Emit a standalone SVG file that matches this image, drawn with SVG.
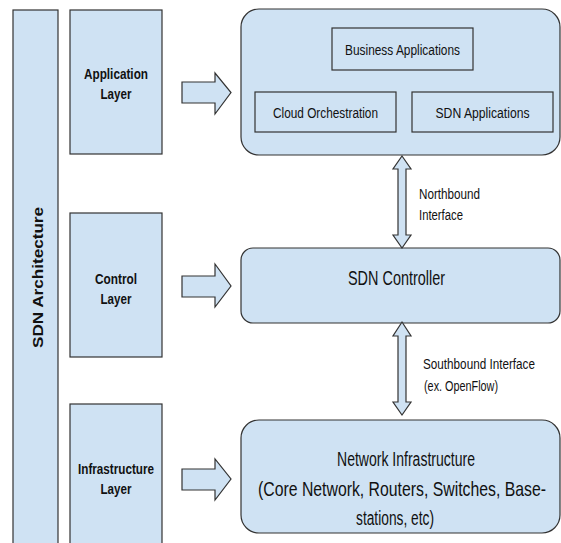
<svg xmlns="http://www.w3.org/2000/svg" width="561" height="543" viewBox="0 0 561 543">
<style>
.b{fill:#cfe2f3;stroke:#333;stroke-width:1.2}
.t{font-family:"Liberation Sans",Arial,sans-serif;fill:#111}
.bold{font-weight:bold}
</style>
<rect width="561" height="543" fill="#fff"/>
<g id="sdn-architecture">
<rect class="b" x="13" y="10" width="45" height="550"/>
<text class="t bold" font-size="15" transform="translate(43,277.5) rotate(-90)" text-anchor="middle" textLength="141" lengthAdjust="spacingAndGlyphs">SDN Architecture</text>
</g>
<g id="application-layer">
<rect class="b" x="70" y="10" width="92" height="144"/>
<text class="t bold" font-size="15" x="116" y="79" text-anchor="middle" textLength="64" lengthAdjust="spacingAndGlyphs">Application</text>
<text class="t bold" font-size="15" x="116" y="99" text-anchor="middle" textLength="31" lengthAdjust="spacingAndGlyphs">Layer</text>
</g>
<g id="control-layer">
<rect class="b" x="70" y="213" width="92" height="144"/>
<text class="t bold" font-size="15" x="116" y="284" text-anchor="middle" textLength="42" lengthAdjust="spacingAndGlyphs">Control</text>
<text class="t bold" font-size="15" x="116" y="304" text-anchor="middle" textLength="31" lengthAdjust="spacingAndGlyphs">Layer</text>
</g>
<g id="infrastructure-layer">
<rect class="b" x="70" y="404" width="92" height="156"/>
<text class="t bold" font-size="15" x="116" y="474" text-anchor="middle" textLength="76" lengthAdjust="spacingAndGlyphs">Infrastructure</text>
<text class="t bold" font-size="15" x="116" y="494" text-anchor="middle" textLength="31" lengthAdjust="spacingAndGlyphs">Layer</text>
</g>
<g id="applications">
<rect class="b" x="241" y="9" width="319" height="146" rx="18" ry="18"/>
</g>
<g id="business-applications">
<rect class="b" x="332" y="28" width="141" height="42"/>
<text class="t" font-size="15.5" x="402.5" y="55" text-anchor="middle" textLength="115" lengthAdjust="spacingAndGlyphs">Business Applications</text>
</g>
<g id="cloud-orchestration">
<rect class="b" x="255" y="92" width="141" height="40"/>
<text class="t" font-size="15.5" x="325.5" y="118" text-anchor="middle" textLength="105" lengthAdjust="spacingAndGlyphs">Cloud Orchestration</text>
</g>
<g id="sdn-applications">
<rect class="b" x="412" y="92" width="141" height="40"/>
<text class="t" font-size="15.5" x="482.5" y="118" text-anchor="middle" textLength="94" lengthAdjust="spacingAndGlyphs">SDN Applications</text>
</g>
<g id="sdn-controller">
<rect class="b" x="241" y="248" width="319" height="75" rx="12" ry="12"/>
<text class="t" font-size="21" x="396.5" y="285" text-anchor="middle" textLength="97" lengthAdjust="spacingAndGlyphs">SDN Controller</text>
</g>
<g id="network-infrastructure">
<rect class="b" x="241" y="420" width="319" height="113" rx="18" ry="18"/>
<text class="t" font-size="20" x="406" y="466" text-anchor="middle" textLength="138" lengthAdjust="spacingAndGlyphs">Network Infrastructure</text>
<text class="t" font-size="20" transform="scale(0.82,1)" x="490.24" y="496" text-anchor="middle" textLength="351.2" lengthAdjust="spacingAndGlyphs">(Core Network, Routers, Switches, Base-</text>
<text class="t" font-size="20" x="395" y="525" text-anchor="middle" textLength="78" lengthAdjust="spacingAndGlyphs">stations, etc)</text>
</g>
<g id="connectors">
<path class="b" d="M182,82 H215 V73 L231,92.5 L215,114 V103 H182 Z"/>
<path class="b" d="M182,276 H215 V264 L231,286 L215,307 V297 H182 Z"/>
<path class="b" d="M182,469 H215 V459 L231,479 L215,500 V490 H182 Z"/>
<path class="b" d="M402,156 L411,169 H406 V235 H411 L402,248 L393,235 H398 V169 H393 Z"/>
<path class="b" d="M402,322 L411,336 H406 V402 H411 L402,415 L393,402 H398 V336 H393 Z"/>
<text class="t" font-size="14" x="419" y="199" textLength="61" lengthAdjust="spacingAndGlyphs">Northbound</text>
<text class="t" font-size="14" x="419" y="220" textLength="44" lengthAdjust="spacingAndGlyphs">Interface</text>
<text class="t" font-size="14" x="423" y="369" textLength="112" lengthAdjust="spacingAndGlyphs">Southbound Interface</text>
<text class="t" font-size="14" x="424" y="391" textLength="74" lengthAdjust="spacingAndGlyphs">(ex. OpenFlow)</text>
</g>
</svg>
